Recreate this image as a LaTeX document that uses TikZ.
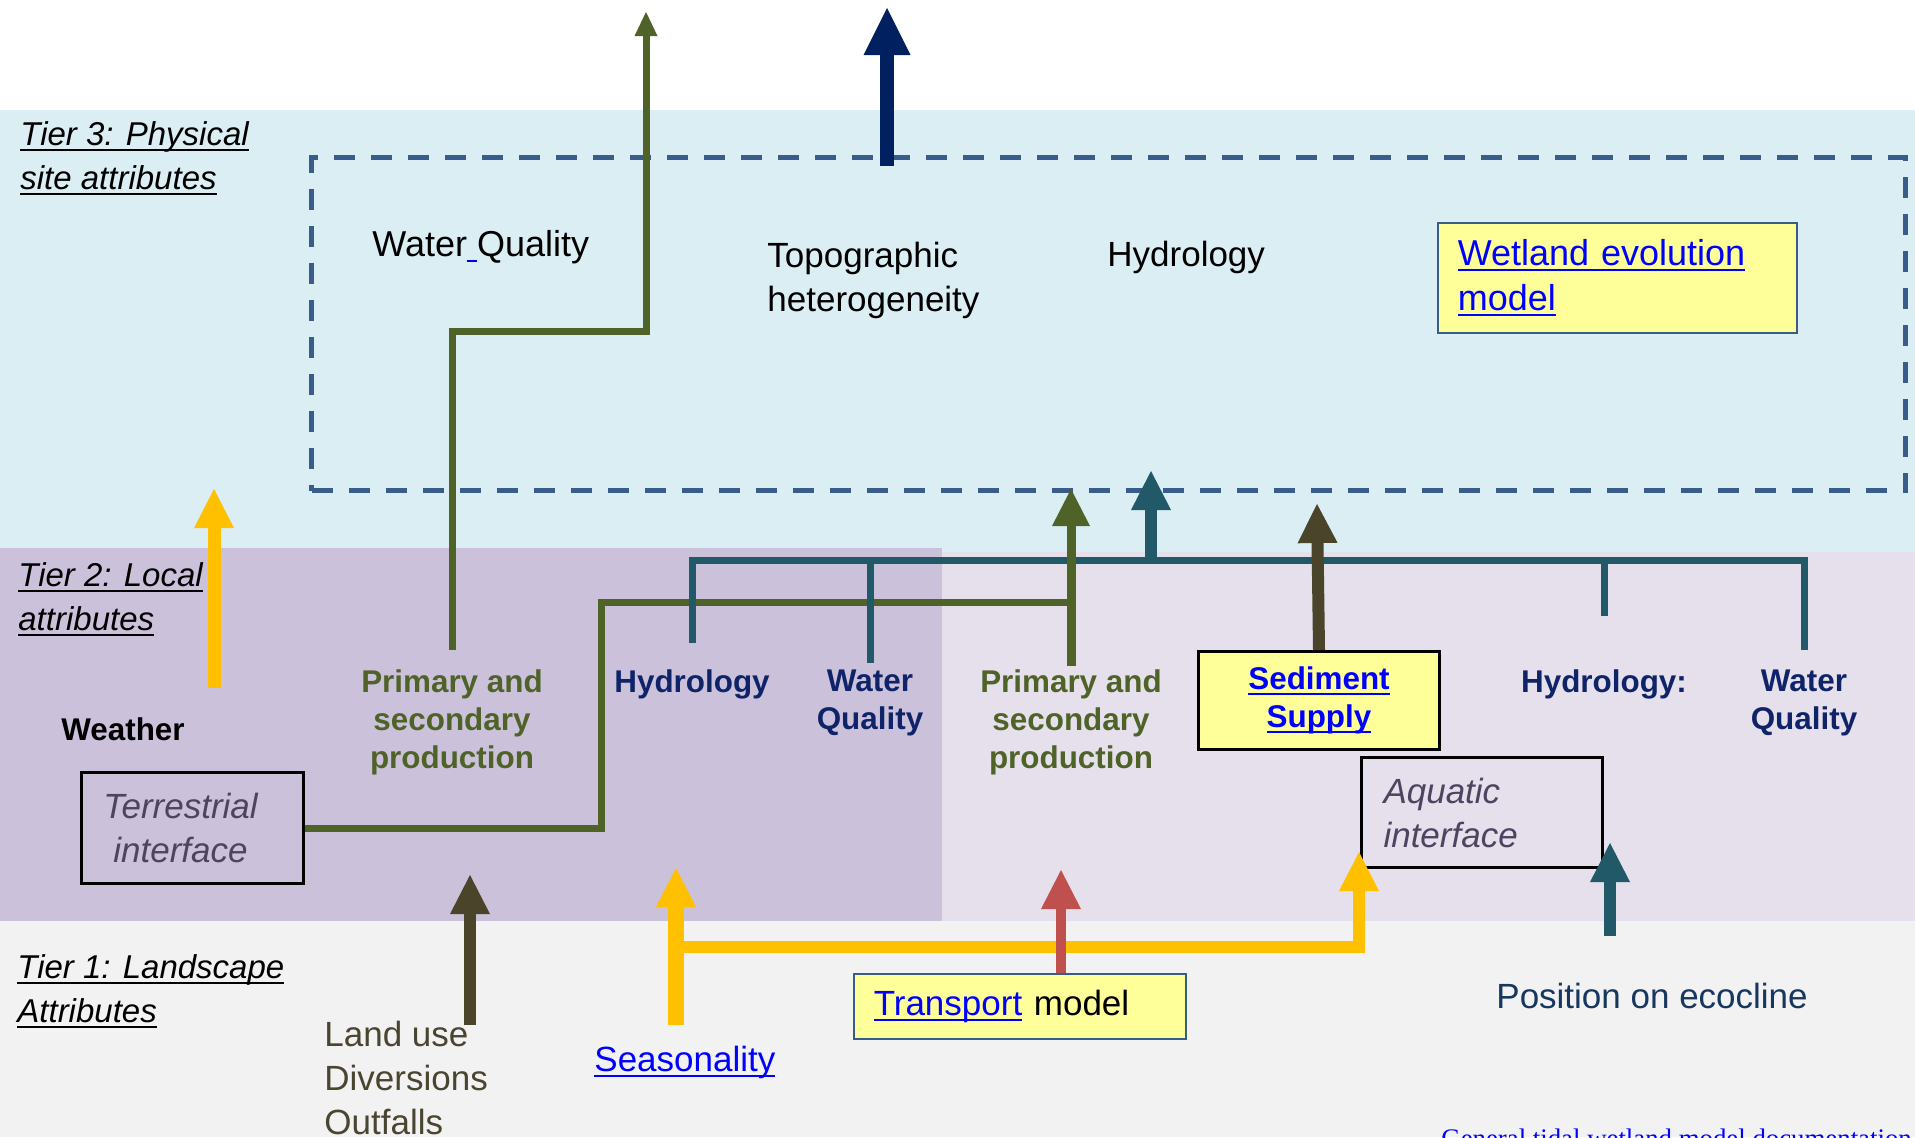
\documentclass[tikz,border=0pt]{standalone}
\usepackage{fontspec}
\setmainfont{Liberation Sans}
\newfontfamily\footfont{Liberation Serif}
\usetikzlibrary{arrows.meta,positioning}

\definecolor{skyband}{HTML}{DAEEF3}
\definecolor{lilacband}{HTML}{CCC1DA}
\definecolor{paleband}{HTML}{E5E0EC}
\definecolor{greyband}{HTML}{F2F2F2}
\definecolor{dashblue}{HTML}{385D8A}
\definecolor{prodgreen}{HTML}{4F6228}
\definecolor{waterteal}{HTML}{215968}
\definecolor{deepnavy}{HTML}{002060}
\definecolor{silt}{HTML}{4A452A}
\definecolor{sunyellow}{HTML}{FFC000}
\definecolor{flowred}{HTML}{C0504D}
\definecolor{linkblue}{HTML}{0000FF}
\definecolor{notepad}{HTML}{FFFF99}
\definecolor{labelnavy}{HTML}{0F2468}
\definecolor{softnavy}{HTML}{17375E}
\definecolor{mutedink}{HTML}{4F4460}
\definecolor{landink}{HTML}{4A4530}

\newsavebox\ulbox
\newcommand\undl[1]{\leavevmode\sbox\ulbox{#1}\rlap{\rule[-0.17em]{\wd\ulbox}{0.07em}}\usebox\ulbox}

\begin{document}
\begin{tikzpicture}[x=0.5pt, y=-0.5pt,
        every node/.style={inner sep=0pt},
        tiertext/.style={anchor=north west, align=left, font=\fontsize{16.5}{22}\selectfont\itshape},
        lighttext/.style={font=\fontsize{17.5}{22}\selectfont},
        boldtext/.style={anchor=north, align=center, font=\fontsize{15.7}{19}\selectfont\bfseries},
        notebox/.style={draw=dashblue, line width=0.75pt, fill=notepad, anchor=north west},
        ifacebox/.style={draw=black, line width=1.5pt, anchor=north west, text=mutedink, font=\fontsize{17.5}{22}\selectfont\itshape},
        prodline/.style={draw=prodgreen, line width=3.5pt},
        waterline/.style={draw=waterteal, line width=3.5pt},
        headed/.style={-{Triangle[width=20pt,length=19.5pt,line width=0pt]}}]

    \useasboundingbox (0,0) rectangle (1915,1137);
    \fill[white] (0,0) rectangle (1915,110);
    \fill[skyband] (0,110) rectangle (1915,553);
    \fill[lilacband] (0,548) rectangle (942,921);
    \fill[paleband] (942,552) rectangle (1915,921);
    \fill[greyband] (0,921) rectangle (1915,1137);

    \node[draw=dashblue, line width=2.5pt, dash pattern=on 10.5pt off 8pt, anchor=north west,
        minimum width=797pt, minimum height=166.5pt] (site) at (309,155) {};

    \node[tiertext] (tierthree) at (20,121) {\undl{Tier 3: Physical}\\\undl{site attributes}};
    \node[tiertext] (tiertwo) at (18,562) {\undl{Tier 2: Local}\\\undl{attributes}};
    \node[tiertext] (tierone) at (17,954) {\undl{Tier 1: Landscape}\\\undl{Attributes}};

    \node[anchor=base west, font=\fontsize{18}{22}\selectfont] (siteWQ) at (372,256) {Water{\color{linkblue}\undl{\ }}Quality};
    \node[lighttext, anchor=north west, align=left] (siteTopo) at (767,242) {Topographic\\heterogeneity};
    \node[lighttext, anchor=base west] (siteHydro) at (1107,266) {Hydrology};
    \node[notebox, minimum width=179.5pt, minimum height=55pt, inner xsep=10pt, text width=159.5pt, align=left,
        text=linkblue, font=\fontsize{18}{22.5}\selectfont] (wetland) at (1437,222) {\undl{Wetland evolution}\\\undl{model}};

    \node[boldtext, anchor=base] (weather) at (123,740) {Weather};
    \node[ifacebox, minimum width=111pt, minimum height=55.5pt, align=center] (terrestrial) at (80,771)
        {Terrestrial\hspace*{12pt}\\interface\hspace*{12pt}};
    \node[boldtext, text=prodgreen] (prodL) at (452,669) {Primary and\\secondary\\production};
    \node[boldtext, anchor=base, text=labelnavy] (hydroL) at (692,692) {Hydrology};
    \node[boldtext, text=labelnavy] (wqL) at (870,669) {Water\\Quality};
    \node[boldtext, text=prodgreen] (prodM) at (1071,669) {Primary and\\secondary\\production};
    \node[notebox, draw=black, line width=1.5pt, minimum width=120.5pt, minimum height=48.75pt, align=center,
        text=linkblue, font=\fontsize{15.7}{19}\selectfont\bfseries] (sediment) at (1197,650) {\undl{Sediment}\\\undl{Supply}};
    \node[boldtext, anchor=base, text=labelnavy] (hydroR) at (1604,692) {Hydrology:};
    \node[boldtext, text=labelnavy] (wqR) at (1804,669) {Water\\Quality};
    \node[ifacebox, minimum width=120.5pt, minimum height=55pt, inner xsep=11pt, text width=98.5pt, align=left] (aquatic) at (1360,756) {Aquatic\\interface};

    \node[lighttext, anchor=north west, align=left, text=landink] (landuse) at (324,1021) {Land use\\Diversions\\Outfalls};
    \node[lighttext, anchor=base west, text=linkblue] (season) at (594,1071) {\undl{Seasonality}};
    \node[notebox, lighttext, minimum width=166pt, minimum height=32.5pt, inner xsep=10pt, text width=146pt, align=left] (transport) at (853,973) {{\color{linkblue}\undl{Transport}} model};
    \node[lighttext, anchor=base west, text=softnavy] (ecocline) at (1496,1008) {Position on ecocline};
    \node[anchor=base west, text=linkblue, font=\footfont\fontsize{13.4}{16}\selectfont] (docnote) at (1441,1147) {\undl{General tidal wetland model documentation}};

    \coordinate (gKnee) at (646,331);
    \coordinate (gTop) at (646,12);
    \coordinate (gStep) at (601,602);
    \coordinate (gJoin) at (1071,602);
    \coordinate (gMidTip) at (1071,489);
    \coordinate (tJoin) at (1804,560);
    \coordinate (tUpTip) at (1151,471);
    \coordinate (navyFoot) at (887,166);
    \coordinate (navyTip) at (887,8);
    \coordinate (siltTip) at (1317,504);
    \coordinate (wxFoot) at (214,688);
    \coordinate (wxTip) at (214,489);
    \coordinate (landFoot) at (470,1025);
    \coordinate (landTip) at (470,875);
    \coordinate (seasFoot) at (676,1025);
    \coordinate (seasTip) at (676,868);
    \coordinate (seasKnee) at (676,947);
    \coordinate (aquaTip) at (1359,852);
    \coordinate (redTip) at (1061,870);
    \coordinate (ecoFoot) at (1610,936);
    \coordinate (ecoTip) at (1610,843);

    \draw[prodline] (terrestrial.east) -| (gStep) -- (gJoin);
    \draw[waterline] ([yshift=13pt]hydroL.north) |- (tJoin) -- ([yshift=9.5pt]wqR.north);
    \draw[waterline] (wqL.north |- tJoin) -- ([yshift=3pt]wqL.north);
    \draw[waterline] (hydroR.north |- tJoin) -- ([yshift=26.5pt]hydroR.north);
    \draw[waterline, line width=6pt, headed] (tUpTip |- tJoin) -- (tUpTip);
    \draw[prodline, line width=4.5pt, -{Triangle[width=19pt,length=18.5pt,line width=0pt]}] ([yshift=1.5pt]prodM.north) -- (gMidTip);
    \draw[prodline, -{Triangle[width=11.5pt,length=12pt,line width=0pt]}] ([yshift=9.5pt]prodL.north) |- (gKnee) -- (gTop);
    \draw[silt, line width=6pt, headed] (sediment.north) -- (siltTip);
    \draw[deepnavy, line width=7pt, -{Triangle[width=23.5pt,length=23.5pt,line width=0pt]}] (navyFoot) -- (navyTip);
    \draw[sunyellow, line width=6.5pt, headed] (wxFoot) -- (wxTip);
    \draw[silt, line width=6pt, headed] (landFoot) -- (landTip);
    \draw[sunyellow, line width=6pt, headed] (seasKnee) -| (aquaTip);
    \draw[sunyellow, line width=8pt, headed] (seasFoot) -- (seasTip);
    \draw[flowred, line width=5pt, headed] (transport.north -| redTip) -- (redTip);
    \draw[waterline, line width=6pt, headed] (ecoFoot) -- (ecoTip);
\end{tikzpicture}
\end{document}
